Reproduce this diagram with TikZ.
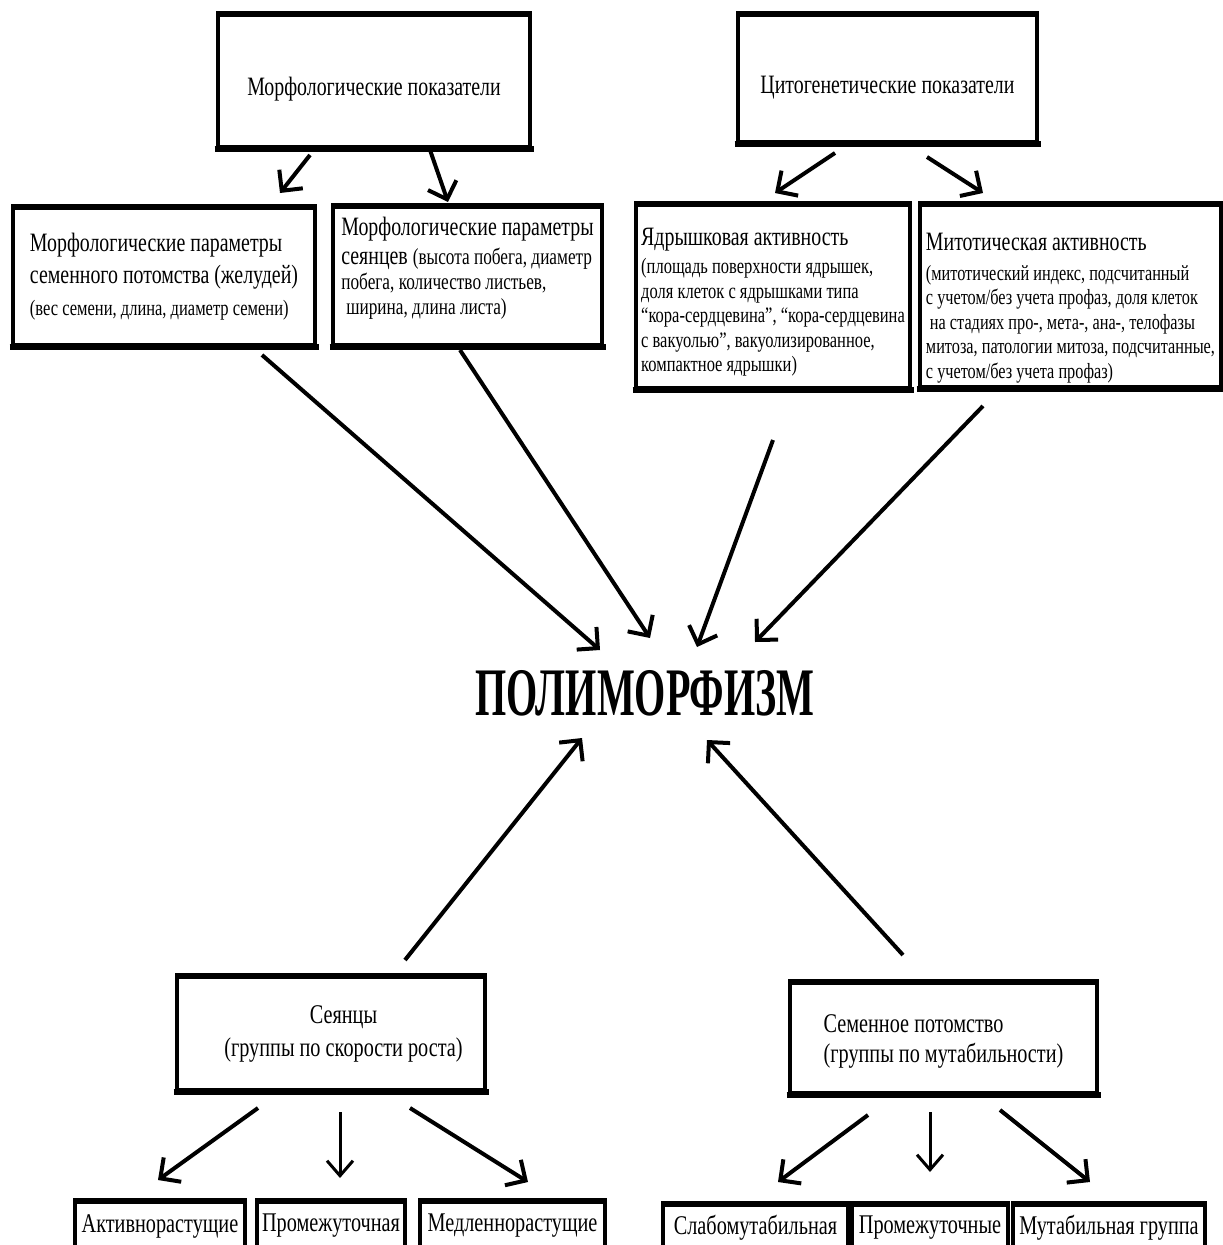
\documentclass[tikz,border=0pt]{standalone}
\usepackage{fontspec}
\setmainfont[FakeStretch=0.75]{Liberation Serif}
\newfontfamily\titlefont[FakeStretch=0.59]{Liberation Serif}
\usetikzlibrary{arrows.meta,calc}
\newcommand\fs[2]{\fontsize{#1}{#2}\selectfont}
\begin{document}
\begin{tikzpicture}[x=1pt,y=-1pt,
  box/.style={draw, line width=3.5pt, inner xsep=0pt, inner ysep=0pt, font=\fs{26.5}{32}},
  arr/.style={line width=4pt, -{Straight Barb[length=15pt,width=30pt]}},
  tarr/.style={line width=3pt, -{Straight Barb[length=15pt,width=26pt]}},
  edge/.style={line width=5.5pt, shorten <=-1.75pt, shorten >=-1.75pt}
]
\path[use as bounding box, fill=white] (0,0) rectangle (1223,1245);

% top boxes
\node[box, minimum width=312pt, minimum height=132pt, text height=35.5pt, text depth=6pt] (A) at (374,81) {Морфологические показатели};
\node[box, minimum width=299pt, minimum height=127pt, text height=36.5pt, text depth=6pt] (B) at (887.5,78.5) {Цитогенетические показатели};

% second row
\node[box, align=left, minimum width=302pt, minimum height=137pt] (C) at (164,276.5)
  {Морфологические параметры\\
   семенного потомства (желудей)\\
   \fs{22}{32}(вес семени, длина, диаметр семени)};
\node[box, align=left, minimum width=269pt, minimum height=138pt, font=\fs{23}{25}] (D) at (467.5,276)
  {\fs{26.5}{25}Морфологические параметры\\[4pt]
   \fs{26.5}{25}сеянцев \fs{23}{25}(высота побега, диаметр\\
   побега, количество листьев,\\
   \hspace*{5pt}ширина, длина листа)\rule[-21pt]{0pt}{21pt}};
\node[box, align=left, minimum width=274pt, minimum height=183pt, font=\fs{22}{24.5}] (E) at (773,296.5)
  {\fs{26.5}{24.5}\rule{0pt}{29.5pt}Ядрышковая активность\\[3.5pt]
   (площадь поверхности ядрышек,\\
   доля клеток с ядрышками типа\\
   “кора-сердцевина”, “кора-сердцевина\\
   с вакуолью”, вакуолизированное,\\
   компактное ядрышки)};
\node[box, align=left, minimum width=301pt, minimum height=182pt, font=\fs{21.7}{24.5}] (F) at (1070.5,296)
  {\fs{26.5}{24.5}\rule{0pt}{41.5pt}Митотическая активность\\[5pt]
   (митотический индекс, подсчитанный\\
   с учетом/без учета профаз, доля клеток\\
   \hspace*{4pt}на стадиях про-, мета-, ана-, телофазы\\
   митоза, патологии митоза, подсчитанные,\\
   с учетом/без учета профаз)};

% title
\node[font=\titlefont\bfseries\fontsize{68}{70}\selectfont, inner sep=0pt] (T) at (645,693) {ПОЛИМОРФИЗМ};

% bottom boxes
\node[box, align=center, minimum width=308pt, minimum height=113pt, font=\fs{27}{32}] (G) at (331,1033.5)
  {\hspace*{25pt}Сеянцы\\[1pt] \hspace*{25pt}(группы по скорости роста)};
\node[box, align=left, minimum width=307pt, minimum height=110pt, font=\fs{27}{32}] (H) at (943.5,1038)
  {\rule{0pt}{25.5pt}Семенное потомство\\[-2pt] (группы по мутабильности)};

\tikzset{small/.style={box, font=\fs{27}{32}}}
\node[small, minimum width=170pt, minimum height=48pt] (I) at (160,1226) {Активнорастущие};
\node[small, minimum width=148pt, minimum height=48pt] (J) at (331,1226) {Промежуточная};
\node[small, minimum width=185pt, minimum height=48pt] (K) at (512.5,1226) {Медленнорастущие};
\node[small, minimum width=185pt, minimum height=45pt] (L) at (755.5,1227.5) {Слабомутабильная};
\node[small, minimum width=156pt, minimum height=45pt] (M) at (930,1227.5) {Промежуточные};
\node[small, minimum width=192pt, minimum height=45pt] (N) at (1109,1227.5) {Мутабильная группа};

% thicker top and bottom edges
\foreach \n in {A,B,C,D,E,F,G,H,I,J,K,L,M,N}
  \draw[edge] (\n.north west) -- (\n.north east) (\n.south west) -- (\n.south east);

% arrows
\draw[arr] ($(A)+(-64,74)$) -- ($(C)+(116,-83.5)$);
\draw[arr] ($(A)+(56,69)$) -- ($(D)+(-19.5,-74)$);
\draw[arr] ($(B)+(-52.5,74.5)$) -- ($(E)+(2,-103.5)$);
\draw[arr] ($(B)+(39.5,78.5)$) -- ($(F)+(-87.5,-103)$);

\draw[arr] ($(C)+(98,78.5)$) -- ($(T)+(-45,-43)$);
\draw[arr] ($(D)+(-7.5,74)$) -- ($(T)+(5,-55)$);
\draw[arr] ($(E)+(0,143.5)$) -- ($(T)+(52,-46)$);
\draw[arr] ($(F)+(-87.5,110)$) -- ($(T)+(110,-51)$);
\draw[arr] ($(G)+(74,-73.5)$) -- ($(T)+(-63,45)$);
\draw[arr] ($(H)+(-40.5,-83)$) -- ($(T)+(62,47)$);

\draw[arr] ($(G)+(-73,74.5)$) -- ($(I)+(-2,-46)$);
\draw[tarr] ($(G)+(9,78.5)$) -- ($(J)+(9,-48)$);
\draw[arr] ($(G)+(79,74.5)$) -- ($(K)+(15.5,-44)$);
\draw[arr] ($(H)+(-75.5,77)$) -- ($(L)+(22.5,-45.5)$);
\draw[tarr] ($(H)+(-13.5,74)$) -- ($(M)+(0,-55.5)$);
\draw[arr] ($(H)+(56.5,72)$) -- ($(N)+(-19,-45.5)$);
\end{tikzpicture}
\end{document}
